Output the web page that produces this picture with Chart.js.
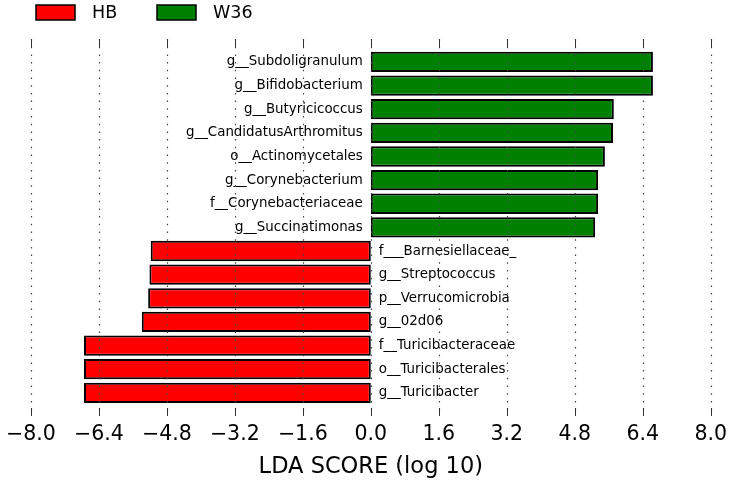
<!DOCTYPE html>
<html>
<head>
<meta charset="utf-8">
<script src="https://cdn.jsdelivr.net/npm/chart.js@4.4.1/dist/chart.umd.min.js"></script>
<style>
  html, body { margin:0; padding:0; background:#fff; }
  #wrap { width:733px; height:481px; }
</style>
</head>
<body>
<div id="wrap"><canvas id="lda"></canvas></div>
<script>
// taxa, top to bottom
const taxa = [
  'g__Subdoligranulum', 'g__Bifidobacterium', 'g__Butyricicoccus', 'g__CandidatusArthromitus',
  'o__Actinomycetales', 'g__Corynebacterium', 'f__Corynebacteriaceae', 'g__Succinatimonas',
  'f___Barnesiellaceae_', 'g__Streptococcus', 'p__Verrucomicrobia', 'g__02d06',
  'f__Turicibacteraceae', 'o__Turicibacterales', 'g__Turicibacter'
];
const ldaScores = [6.64, 6.64, 5.72, 5.70, 5.51, 5.35, 5.35, 5.28,
                   -5.18, -5.21, -5.24, -5.39, -6.75, -6.75, -6.75];
const groups = ['W36','W36','W36','W36','W36','W36','W36','W36',
                'HB','HB','HB','HB','HB','HB','HB'];
const classNames = ['HB', 'W36'];
const classColors = ['#ff0000', '#008000'];
const xTicks = [-8.0, -6.4, -4.8, -3.2, -1.6, 0.0, 1.6, 3.2, 4.8, 6.4, 8.0];

const FONT = '"DejaVu Sans", sans-serif';

function pointsFor(cls) {
  const pts = [];
  taxa.forEach(function(t, i){
    if (groups[i] === cls) pts.push({ x: ldaScores[i], y: i, name: t });
  });
  return pts;
}

// names drawn beside the zero line
const taxonLabels = {
  id: 'taxonLabels',
  afterDatasetsDraw(chart) {
    const ctx = chart.ctx;
    const x0 = chart.scales.x.getPixelForValue(0);
    ctx.save();
    ctx.font = '13.4px ' + FONT;
    ctx.fillStyle = '#000';
    ctx.textBaseline = 'middle';
    chart.data.datasets.forEach(function(ds, di){
      const meta = chart.getDatasetMeta(di);
      meta.data.forEach(function(bar, i){
        const p = ds.data[i];
        if (p.x >= 0) { ctx.textAlign = 'right'; ctx.fillText(p.name, x0 - 8, bar.y); }
        else { ctx.textAlign = 'left'; ctx.fillText(p.name, x0 + 8, bar.y); }
      });
    });
    ctx.restore();
  }
};

// dotted grid on top of bars + inward tick marks
const gridOnTop = {
  id: 'gridOnTop',
  afterDraw(chart) {
    const ctx = chart.ctx, a = chart.chartArea, sx = chart.scales.x;
    ctx.save();
    sx.ticks.forEach(function(t){
      const px = Math.round(sx.getPixelForValue(t.value)) + 0.5;
      ctx.strokeStyle = '#444';
      ctx.lineWidth = 1.2;
      ctx.setLineDash([1.5, 6.2]);
      ctx.beginPath(); ctx.moveTo(px, a.top); ctx.lineTo(px, a.bottom); ctx.stroke();
      ctx.setLineDash([]);
      ctx.lineWidth = 1;
      ctx.strokeStyle = '#333';
      ctx.beginPath();
      ctx.moveTo(px, a.top); ctx.lineTo(px, a.top + 8);
      ctx.moveTo(px, a.bottom); ctx.lineTo(px, a.bottom - 8);
      ctx.stroke();
    });
    ctx.restore();
  }
};

// matplotlib-like legend at top-left
const boxLegend = {
  id: 'boxLegend',
  afterDraw(chart) {
    const ctx = chart.ctx;
    ctx.save();
    ctx.font = '17.5px ' + FONT;
    ctx.textBaseline = 'middle';
    ctx.textAlign = 'left';
    chart.data.datasets.forEach(function(ds, i){
      const bx = 36 + i * 121;
      ctx.fillStyle = ds.backgroundColor;
      ctx.fillRect(bx, 5, 39, 15);
      ctx.strokeStyle = '#000';
      ctx.lineWidth = 1.5;
      ctx.strokeRect(bx, 5, 39, 15);
      ctx.fillStyle = '#000';
      ctx.fillText(ds.label, bx + 56, 13);
    });
    ctx.restore();
  }
};

new Chart(document.getElementById('lda'), {
  type: 'bar',
  data: {
    datasets: classNames.map(function(c, i){
      return {
        label: c,
        data: pointsFor(c),
        backgroundColor: classColors[i],
        borderColor: '#000',
        borderWidth: 2,
        borderSkipped: false,
        barPercentage: 0.86,
        categoryPercentage: 1.0,
        grouped: false
      };
    })
  },
  options: {
    indexAxis: 'y',
    responsive: true,
    maintainAspectRatio: false,
    animation: false,
    layout: { padding: { left: 29, right: 20, top: 39, bottom: 0 } },
    plugins: { legend: { display: false }, tooltip: { enabled: false } },
    scales: {
      x: {
        type: 'linear',
        min: -8, max: 8,
        afterBuildTicks: function(s){ s.ticks = xTicks.map(function(v){ return { value: v }; }); },
        afterFit: function(s){ s.height = 65; },
        grid: { display: false, drawTicks: false },
        border: { display: false },
        ticks: {
          padding: 6,
          color: '#000',
          font: { family: FONT, size: 20.5 },
          maxRotation: 0,
          autoSkip: false,
          callback: function(v){ return (v < 0 ? '\u2212' : '') + Math.abs(v).toFixed(1); }
        },
        title: {
          display: true,
          text: 'LDA SCORE (log 10)',
          color: '#000',
          font: { family: FONT, size: 22.5 },
          padding: { top: 0, bottom: 0 }
        }
      },
      y: {
        type: 'linear',
        reverse: true,
        offset: false,
        bounds: 'data',
        grid: { offset: false },
        min: -0.97, max: 14.98,
        display: false,
        afterBuildTicks: function(s){ s.ticks = taxa.map(function(_, i){ return { value: i }; }); }
      }
    }
  },
  plugins: [taxonLabels, gridOnTop, boxLegend]
});
</script>
</body>
</html>
